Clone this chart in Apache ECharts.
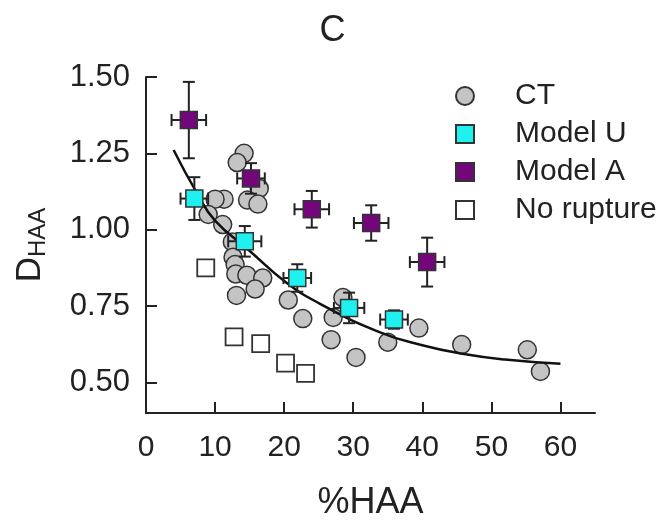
<!DOCTYPE html>
<html>
<head>
<meta charset="utf-8">
<script src="https://cdn.jsdelivr.net/npm/echarts@6/dist/echarts.min.js"></script>
<style>
  html, body { margin: 0; padding: 0; background: #fff; }
  #chart { width: 665px; height: 521px; }
</style>
</head>
<body>
<div id="chart"></div>
<script>
// CT measurements (%HAA, D_HAA)
const ctX = [14.2, 13.2, 16.4, 14.7, 16.2, 11.3, 10.0, 9.0, 11.1, 12.5, 12.6, 12.9, 13.0, 14.6, 16.9, 15.8, 13.1, 20.6, 22.7, 27.1, 28.5, 26.8, 30.4, 35.0, 39.5, 45.7, 55.2, 57.1];
const ctY = [1.25, 1.22, 1.135, 1.097, 1.084, 1.10, 1.10, 1.05, 1.017, 0.96, 0.91, 0.886, 0.855, 0.851, 0.842, 0.806, 0.785, 0.77, 0.709, 0.713, 0.778, 0.64, 0.582, 0.632, 0.678, 0.624, 0.607, 0.536];

// Model U (cyan) with errors
const uX = [7.0, 14.3, 21.9, 29.4, 35.9];
const uY = [1.102, 0.962, 0.842, 0.744, 0.706];
const uXErr = [2.0, 2.4, 2.0, 2.2, 2.0];
const uYErr = [0.07, 0.05, 0.045, 0.05, 0.03];

// Model A (purple) with errors
const aX = [6.2, 15.2, 24.0, 32.6, 40.7];
const aY = [1.359, 1.168, 1.067, 1.022, 0.894];
const aXErr = [2.5, 2.0, 2.5, 2.5, 2.5];
const aYErr = [0.125, 0.05, 0.06, 0.058, 0.08];

// No rupture (open squares)
const nrX = [8.65, 12.75, 16.6, 20.2, 23.1];
const nrY = [0.875, 0.649, 0.627, 0.563, 0.530];

// fitted curve, points
const fitX = [4.0, 7.4, 10.0, 14.9, 20.2, 25.0, 33.8, 40.0, 45.8, 52.0, 60.0];
const fitY = [1.261, 1.119, 1.03, 0.933, 0.829, 0.76, 0.665, 0.622, 0.594, 0.575, 0.561];

const xTicks = [0, 10, 20, 30, 40, 50, 60];
const yTicks = [0.5, 0.75, 1.0, 1.25, 1.5];

const FONT = "'Liberation Sans', Arial, sans-serif";
const zip = (a, b) => a.map((v, i) => [v, b[i]]);
const zip4 = (a, b, c, d) => a.map((v, i) => [v, b[i], c[i], d[i]]);

function errRender(params, api) {
  const x = api.value(0), y = api.value(1), ex = api.value(2), ey = api.value(3);
  const l = api.coord([x - ex, y]), r = api.coord([x + ex, y]);
  const t = api.coord([x, y + ey]), b = api.coord([x, y - ey]);
  const cap = 6;
  const st = { stroke: '#222', lineWidth: 2 };
  const line = (x1, y1, x2, y2) => ({ type: 'line', shape: { x1, y1, x2, y2 }, style: st });
  return {
    type: 'group',
    children: [
      line(l[0], l[1], r[0], r[1]),
      line(t[0], t[1], b[0], b[1]),
      line(l[0], l[1] - cap, l[0], l[1] + cap),
      line(r[0], r[1] - cap, r[0], r[1] + cap),
      line(t[0] - cap, t[1], t[0] + cap, t[1]),
      line(b[0] - cap, b[1], b[0] + cap, b[1])
    ]
  };
}

const chart = echarts.init(document.getElementById('chart'));
chart.setOption({
  animation: false,
  textStyle: { fontFamily: FONT, color: '#222' },
  title: {
    text: 'C', left: 'center', top: 8,
    textStyle: { fontFamily: FONT, fontSize: 36, fontWeight: 'normal', color: '#222' }
  },
  grid: { left: 146, right: 70, top: 77, bottom: 108, containLabel: false, outerBoundsMode: 'none' },
  legend: {
    orient: 'vertical', left: 450, top: 76, itemGap: 8,
    itemWidth: 18, itemHeight: 18,
    textStyle: { fontFamily: FONT, fontSize: 30, color: '#222', padding: [0, 0, 0, 36] },
    data: [
      { name: 'CT', icon: 'circle' },
      { name: 'Model U', icon: 'rect' },
      { name: 'Model A', icon: 'rect' },
      { name: 'No rupture', icon: 'rect' }
    ]
  },
  xAxis: {
    type: 'value', min: 0, max: 65,
    name: '%HAA', nameLocation: 'middle', nameGap: 72,
    nameTextStyle: { fontFamily: FONT, fontSize: 36, color: '#222' },
    axisLine: { lineStyle: { color: '#222', width: 2 } },
    axisTick: { inside: true, length: 11, lineStyle: { color: '#222', width: 2 }, customValues: xTicks },
    axisLabel: { fontFamily: FONT, fontSize: 30, color: '#222', margin: 20, customValues: xTicks },
    splitLine: { show: false }
  },
  yAxis: {
    type: 'value', min: 0.4, max: 1.5,
    name: '{d|D}{s|HAA}', nameLocation: 'middle', nameGap: 96, nameRotate: 90,
    nameTextStyle: {
      rich: {
        d: { fontFamily: FONT, fontSize: 35, color: '#222', lineHeight: 40 },
        s: { fontFamily: FONT, fontSize: 24, color: '#222', lineHeight: 40, padding: [16, 0, 0, 0] }
      }
    },
    axisLine: { lineStyle: { color: '#222', width: 2 } },
    axisTick: { inside: true, length: 11, lineStyle: { color: '#222', width: 2 }, customValues: yTicks },
    axisLabel: {
      fontFamily: FONT, fontSize: 31, color: '#222', margin: 16, customValues: yTicks,
      formatter: v => v.toFixed(2)
    },
    splitLine: { show: false }
  },
  series: [
    {
      name: 'CT', type: 'scatter', symbol: 'circle', symbolSize: 18, z: 2,
      itemStyle: { color: '#c4c4c4', borderColor: '#333', borderWidth: 1.5, opacity: 1 },
      data: zip(ctX, ctY)
    },
    {
      name: 'fit', type: 'line', smooth: true, showSymbol: false, z: 3,
      lineStyle: { color: '#111', width: 2.5 },
      data: zip(fitX, fitY)
    },
    {
      name: 'No rupture', type: 'scatter', symbol: 'rect', symbolSize: 17, z: 4,
      itemStyle: { color: '#fff', borderColor: '#333', borderWidth: 1.8, opacity: 1 },
      data: zip(nrX, nrY)
    },
    {
      name: 'errU', type: 'custom', z: 5, renderItem: errRender,
      encode: { x: 0, y: 1 }, data: zip4(uX, uY, uXErr, uYErr)
    },
    {
      name: 'Model U', type: 'scatter', symbol: 'rect', symbolSize: 17, z: 6,
      itemStyle: { color: '#1ff0f0', borderColor: '#333', borderWidth: 1.5, opacity: 1 },
      data: zip(uX, uY)
    },
    {
      name: 'errA', type: 'custom', z: 7, renderItem: errRender,
      encode: { x: 0, y: 1 }, data: zip4(aX, aY, aXErr, aYErr)
    },
    {
      name: 'Model A', type: 'scatter', symbol: 'rect', symbolSize: 17, z: 8,
      itemStyle: { color: '#74067c', borderColor: '#333', borderWidth: 1.5, opacity: 1 },
      data: zip(aX, aY)
    }
  ]
});
</script>
</body>
</html>
